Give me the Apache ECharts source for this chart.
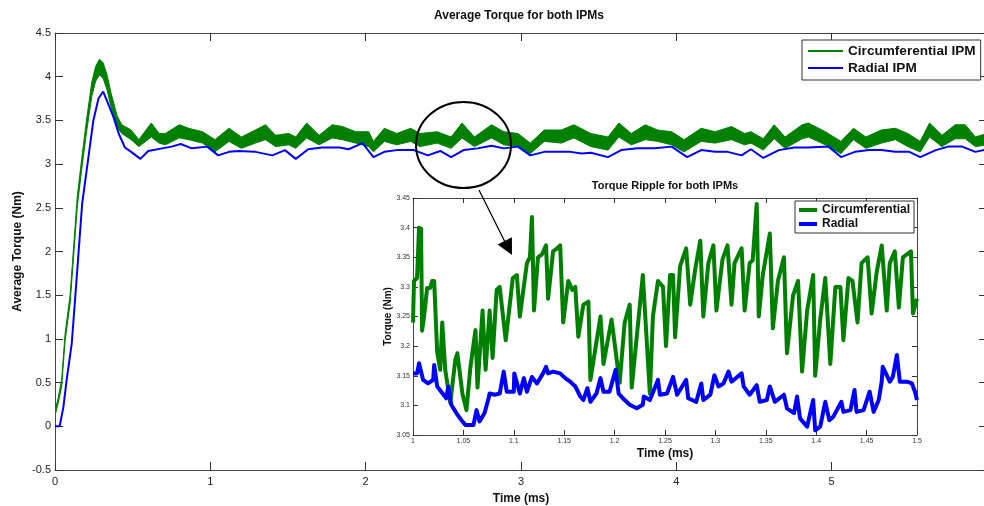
<!DOCTYPE html>
<html lang="en">
<head>
<meta charset="UTF-8">
<title>Average Torque for both IPMs</title>
<script src="https://cdn.jsdelivr.net/npm/echarts@6/dist/echarts.min.js"></script>
<style>
    *{margin:0;padding:0}
    html,body{width:100%;height:100%;background:#fff}
    .echarts{width:984px;height:506px}
</style>
</head>
<body>
<div class="echarts"></div>
<script>
// main plot: time (ms), lower and upper edge of the green ripple band
let circMain=[[0,0.12,0.18],[0.02,0.26,0.32],[0.043,0.46,0.54],[0.065,0.98,1.06],[0.097,1.40,1.50],[0.144,2.52,2.64],[0.172,2.94,3.06],[0.204,3.38,3.52],[0.237,3.78,3.94],[0.262,3.95,4.12],[0.286,4.02,4.20],[0.31,3.98,4.16],[0.335,3.85,4.02],[0.36,3.66,3.82],[0.40,3.42,3.55],[0.43,3.35,3.45],[0.49,3.28,3.39],[0.54,3.20,3.28],[0.62,3.31,3.47],[0.67,3.24,3.35],[0.71,3.22,3.35],[0.80,3.30,3.45],[0.86,3.28,3.41],[0.95,3.24,3.37],[1.03,3.14,3.28],[1.12,3.26,3.41],[1.20,3.18,3.31],[1.29,3.24,3.39],[1.355,3.28,3.45],[1.42,3.20,3.33],[1.505,3.22,3.35],[1.55,3.18,3.31],[1.62,3.30,3.47],[1.70,3.22,3.33],[1.785,3.30,3.45],[1.85,3.28,3.43],[1.935,3.24,3.37],[2.02,3.20,3.37],[2.05,3.14,3.26],[2.12,3.26,3.41],[2.20,3.22,3.35],[2.29,3.26,3.41],[2.35,3.20,3.35],[2.46,3.24,3.37],[2.55,3.18,3.31],[2.62,3.30,3.47],[2.70,3.20,3.31],[2.81,3.30,3.45],[2.89,3.22,3.37],[2.98,3.20,3.35],[3.06,3.12,3.24],[3.15,3.26,3.39],[3.26,3.24,3.39],[3.34,3.30,3.45],[3.45,3.20,3.35],[3.56,3.16,3.31],[3.63,3.31,3.47],[3.71,3.22,3.35],[3.80,3.28,3.45],[3.88,3.26,3.39],[3.97,3.22,3.37],[4.05,3.14,3.28],[4.16,3.26,3.41],[4.25,3.24,3.37],[4.355,3.28,3.43],[4.44,3.22,3.35],[4.48,3.24,3.37],[4.56,3.16,3.29],[4.63,3.29,3.45],[4.70,3.18,3.31],[4.81,3.29,3.45],[4.85,3.31,3.47],[4.96,3.22,3.37],[5.06,3.12,3.26],[5.14,3.28,3.41],[5.22,3.18,3.31],[5.32,3.24,3.39],[5.41,3.28,3.41],[5.49,3.20,3.35],[5.57,3.14,3.26],[5.63,3.31,3.47],[5.71,3.20,3.33],[5.795,3.29,3.45],[5.86,3.29,3.45],[5.925,3.20,3.31],[6.0,3.22,3.35]]
let radialMain=[[0,0],[0.03,0],[0.054,0.22],[0.075,0.53],[0.108,0.95],[0.129,1.45],[0.15,1.95],[0.175,2.55],[0.21,3.01],[0.247,3.5],[0.28,3.75],[0.31,3.83],[0.34,3.70],[0.376,3.54],[0.41,3.35],[0.45,3.19],[0.49,3.14],[0.55,3.06],[0.60,3.15],[0.69,3.18],[0.75,3.20],[0.81,3.23],[0.88,3.18],[0.98,3.20],[1.05,3.10],[1.12,3.14],[1.18,3.15],[1.29,3.14],[1.40,3.10],[1.48,3.16],[1.55,3.06],[1.63,3.17],[1.72,3.19],[1.83,3.19],[1.89,3.17],[1.98,3.24],[2.05,3.08],[2.12,3.14],[2.20,3.16],[2.31,3.16],[2.40,3.10],[2.48,3.15],[2.55,3.08],[2.63,3.16],[2.72,3.18],[2.81,3.21],[2.89,3.18],[2.98,3.20],[3.06,3.10],[3.15,3.14],[3.24,3.14],[3.32,3.14],[3.39,3.12],[3.45,3.13],[3.56,3.08],[3.645,3.16],[3.75,3.18],[3.86,3.18],[3.97,3.20],[4.07,3.08],[4.16,3.16],[4.25,3.14],[4.33,3.14],[4.42,3.10],[4.48,3.17],[4.56,3.07],[4.66,3.16],[4.76,3.19],[4.85,3.19],[4.98,3.20],[5.06,3.08],[5.15,3.14],[5.24,3.16],[5.32,3.16],[5.41,3.14],[5.50,3.14],[5.57,3.08],[5.67,3.16],[5.75,3.20],[5.84,3.20],[5.925,3.14],[6.0,3.17]]

// zoomed inset, 1 - 1.5 ms
let circRipple=[[1.000,3.24],[1.001,3.31],[1.004,3.315],[1.006,3.40],[1.008,3.398],[1.009,3.226],[1.011,3.25],[1.014,3.298],[1.017,3.298],[1.019,3.31],[1.021,3.31],[1.024,3.19],[1.027,3.16],[1.029,3.24],[1.032,3.16],[1.037,3.104],[1.042,3.177],[1.044,3.188],[1.049,3.12],[1.053,3.092],[1.057,3.165],[1.062,3.227],[1.064,3.13],[1.069,3.26],[1.072,3.16],[1.076,3.26],[1.079,3.18],[1.083,3.295],[1.086,3.30],[1.092,3.21],[1.099,3.315],[1.103,3.32],[1.106,3.25],[1.113,3.34],[1.116,3.35],[1.118,3.418],[1.120,3.26],[1.124,3.35],[1.128,3.355],[1.132,3.37],[1.134,3.28],[1.139,3.36],[1.143,3.365],[1.146,3.37],[1.149,3.24],[1.154,3.31],[1.158,3.295],[1.161,3.30],[1.164,3.216],[1.169,3.27],[1.174,3.275],[1.176,3.143],[1.186,3.25],[1.189,3.17],[1.197,3.245],[1.205,3.138],[1.210,3.24],[1.215,3.27],[1.217,3.13],[1.228,3.32],[1.235,3.12],[1.238,3.25],[1.243,3.31],[1.248,3.30],[1.251,3.20],[1.255,3.32],[1.258,3.32],[1.260,3.215],[1.265,3.335],[1.271,3.365],[1.275,3.27],[1.280,3.33],[1.285,3.378],[1.288,3.25],[1.293,3.34],[1.298,3.37],[1.301,3.26],[1.307,3.346],[1.312,3.37],[1.316,3.27],[1.319,3.34],[1.326,3.365],[1.329,3.26],[1.334,3.34],[1.337,3.345],[1.341,3.44],[1.343,3.25],[1.347,3.32],[1.354,3.39],[1.357,3.23],[1.362,3.31],[1.368,3.35],[1.371,3.188],[1.377,3.285],[1.382,3.31],[1.386,3.157],[1.391,3.26],[1.397,3.32],[1.399,3.15],[1.404,3.245],[1.409,3.315],[1.414,3.17],[1.419,3.30],[1.424,3.30],[1.427,3.21],[1.432,3.315],[1.436,3.31],[1.441,3.24],[1.445,3.34],[1.451,3.35],[1.455,3.255],[1.460,3.325],[1.465,3.37],[1.470,3.26],[1.473,3.34],[1.478,3.36],[1.482,3.265],[1.486,3.35],[1.490,3.355],[1.494,3.36],[1.496,3.255],[1.500,3.28]]
let radialRipple=[[1.000,3.154],[1.004,3.154],[1.006,3.171],[1.010,3.143],[1.015,3.137],[1.020,3.143],[1.021,3.168],[1.024,3.132],[1.028,3.123],[1.033,3.112],[1.035,3.132],[1.038,3.101],[1.043,3.087],[1.048,3.075],[1.052,3.067],[1.060,3.067],[1.063,3.092],[1.066,3.073],[1.071,3.087],[1.075,3.112],[1.076,3.120],[1.081,3.118],[1.086,3.120],[1.090,3.157],[1.093,3.123],[1.100,3.123],[1.1005,3.154],[1.106,3.120],[1.110,3.146],[1.113,3.123],[1.118,3.148],[1.123,3.137],[1.129,3.154],[1.132,3.165],[1.134,3.154],[1.139,3.157],[1.146,3.154],[1.151,3.146],[1.156,3.140],[1.161,3.132],[1.166,3.115],[1.169,3.109],[1.173,3.129],[1.176,3.106],[1.182,3.120],[1.186,3.146],[1.189,3.123],[1.195,3.123],[1.201,3.160],[1.204,3.120],[1.210,3.109],[1.215,3.101],[1.222,3.095],[1.228,3.101],[1.229,3.115],[1.235,3.109],[1.243,3.143],[1.245,3.118],[1.252,3.120],[1.258,3.148],[1.262,3.118],[1.271,3.143],[1.273,3.112],[1.281,3.106],[1.286,3.137],[1.288,3.109],[1.295,3.118],[1.299,3.151],[1.303,3.132],[1.308,3.137],[1.313,3.157],[1.316,3.140],[1.326,3.154],[1.328,3.132],[1.334,3.118],[1.341,3.134],[1.344,3.106],[1.351,3.109],[1.354,3.132],[1.359,3.106],[1.368,3.118],[1.371,3.095],[1.378,3.087],[1.381,3.115],[1.384,3.078],[1.391,3.064],[1.397,3.109],[1.399,3.058],[1.404,3.064],[1.409,3.106],[1.413,3.075],[1.417,3.081],[1.425,3.106],[1.427,3.089],[1.434,3.092],[1.438,3.126],[1.440,3.089],[1.447,3.092],[1.453,3.123],[1.457,3.089],[1.462,3.109],[1.465,3.140],[1.466,3.165],[1.473,3.140],[1.476,3.148],[1.480,3.185],[1.483,3.140],[1.490,3.140],[1.495,3.137],[1.498,3.123],[1.500,3.109]]

let green='#008000'
let blue='#0000ff'
let font='Liberation Sans, Arial, sans-serif'

window.onload=function () {
    let myCharts=echarts.init(document.querySelector('.echarts'))

    // the green curve is a thick ripple band: one polygon between its lower and upper edge
    let renderBand=function (params, api) {
        if (params.dataIndex!==0) return null
        let lower=circMain.map(r=>api.coord([r[0],r[1]]))
        let upper=circMain.map(r=>api.coord([r[0],r[2]])).reverse()
        return {
            type:'polygon',
            shape:{points:lower.concat(upper)},
            style:{fill:green,stroke:green,lineWidth:1}
        }
    }

    let tick=(len)=>({show:true,inside:true,length:len,lineStyle:{color:'#333'}})
    let line={show:true,onZero:false,lineStyle:{color:'#444',width:1}}

    let option={
        backgroundColor:'#fff',
        animation:false,
        textStyle:{fontFamily:font},
        title:[{
            text:'Average Torque for both IPMs',
            left:519, top:10, padding:0, textAlign:'center',
            textStyle:{fontSize:12,fontWeight:'bold',color:'#111',fontFamily:font}
        },{
            text:'Torque Ripple for both IPMs',
            left:665, top:180, padding:0, textAlign:'center',
            textStyle:{fontSize:11,fontWeight:'bold',color:'#111',fontFamily:font}
        }],
        legend:[{
            data:['Circumferential IPM','Radial IPM'],
            orient:'vertical', left:802, top:40,
            padding:[4,5,5,6], itemGap:3,
            icon:'rect', itemWidth:35, itemHeight:2,
            borderColor:'#333', borderWidth:1, backgroundColor:'#fff',
            textStyle:{fontSize:13.6,fontWeight:'bold',color:'#111',fontFamily:font}
        },{
            data:['Circumferential','Radial'],
            orient:'vertical', left:795, top:201,
            padding:[3,4,3,4], itemGap:2,
            icon:'rect', itemWidth:18, itemHeight:4,
            borderColor:'#333', borderWidth:1, backgroundColor:'#fff',
            textStyle:{fontSize:12,fontWeight:'bold',color:'#111',fontFamily:font}
        }],
        grid:[
            {left:55, top:33, width:932, height:437, outerBoundsMode:'none', containLabel:false},
            {left:413, top:198, width:504, height:237, outerBoundsMode:'none', containLabel:false,
             show:true, backgroundColor:'#fff', borderWidth:0}
        ],
        xAxis:[{
            gridIndex:0, type:'value', min:0, max:6, interval:1, position:'bottom',
            axisLine:line, axisTick:tick(8), splitLine:{show:false},
            axisLabel:{fontSize:11,color:'#222',margin:6,showMaxLabel:false},
            name:'Time (ms)', nameLocation:'middle', nameGap:23, nameMoveOverlap:false,
            nameTextStyle:{fontSize:12,fontWeight:'bold',color:'#111'}
        },{
            gridIndex:0, type:'value', min:0, max:6, interval:1, position:'top',
            axisLine:line, axisTick:tick(8), splitLine:{show:false}, axisLabel:{show:false}
        },{
            gridIndex:1, type:'value', min:1, max:1.5, interval:0.05, position:'bottom',
            axisLine:line, axisTick:tick(5), splitLine:{show:false},
            axisLabel:{fontSize:7,color:'#333',margin:3},
            name:'Time (ms)', nameLocation:'middle', nameGap:13, nameMoveOverlap:false,
            nameTextStyle:{fontSize:12,fontWeight:'bold',color:'#111'}
        },{
            gridIndex:1, type:'value', min:1, max:1.5, interval:0.05, position:'top',
            axisLine:line, axisTick:tick(5), splitLine:{show:false}, axisLabel:{show:false}
        }],
        yAxis:[{
            gridIndex:0, type:'value', min:-0.5, max:4.5, interval:0.5, position:'left',
            axisLine:line, axisTick:tick(8), splitLine:{show:false},
            axisLabel:{fontSize:11,color:'#222',margin:4},
            name:'Average Torque (Nm)', nameLocation:'middle', nameGap:31, nameMoveOverlap:false,
            nameTextStyle:{fontSize:12,fontWeight:'bold',color:'#111'}
        },{
            gridIndex:0, type:'value', min:-0.5, max:4.5, interval:0.5, position:'right',
            axisLine:line, axisTick:tick(8), splitLine:{show:false}, axisLabel:{show:false}
        },{
            gridIndex:1, type:'value', min:3.05, max:3.45, interval:0.05, position:'left',
            axisLine:line, axisTick:tick(5), splitLine:{show:false},
            axisLabel:{fontSize:7,color:'#333',margin:3},
            name:'Torque (Nm)', nameLocation:'middle', nameGap:20, nameMoveOverlap:false,
            nameTextStyle:{fontSize:10,fontWeight:'bold',color:'#111'}
        },{
            gridIndex:1, type:'value', min:3.05, max:3.45, interval:0.05, position:'right',
            axisLine:line, axisTick:tick(5), splitLine:{show:false}, axisLabel:{show:false}
        }],
        series:[{
            name:'Circumferential IPM', type:'custom', xAxisIndex:0, yAxisIndex:0,
            data:circMain, renderItem:renderBand, color:green,
            encode:{x:0,y:[1,2]}, clip:true
        },{
            name:'Radial IPM', type:'line', xAxisIndex:0, yAxisIndex:0,
            data:radialMain, symbol:'none', color:blue,
            lineStyle:{color:blue,width:2}
        },{
            name:'Circumferential', type:'line', xAxisIndex:2, yAxisIndex:2,
            data:circRipple, symbol:'none', color:green, z:3,
            lineStyle:{color:green,width:4,join:'round'}
        },{
            name:'Radial', type:'line', xAxisIndex:2, yAxisIndex:2,
            data:radialRipple, symbol:'none', color:blue, z:3,
            lineStyle:{color:blue,width:4,join:'round'}
        }],
        graphic:[{
            type:'ellipse', shape:{cx:463.5,cy:145,rx:47.5,ry:43},
            style:{fill:'none',stroke:'#000',lineWidth:2}, z:100
        },{
            type:'line', shape:{x1:479,y1:190,x2:505,y2:242},
            style:{stroke:'#000',lineWidth:1.3}, z:100
        },{
            type:'polygon', shape:{points:[[512,255],[497.7,244.4],[511.9,237.2]]},
            style:{fill:'#000'}, z:100
        }]
    }
    myCharts.setOption(option)
}
</script>
</body>
</html>
